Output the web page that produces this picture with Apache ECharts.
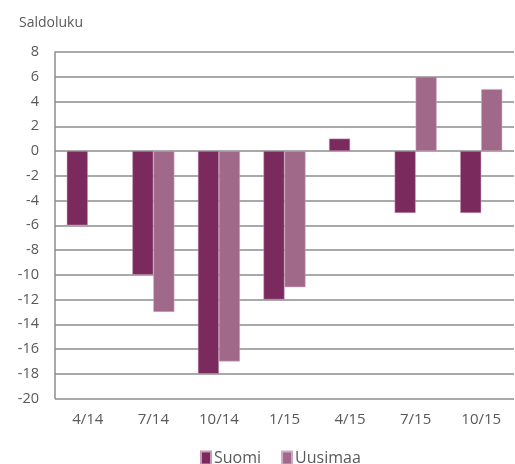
<!DOCTYPE html>
<html>
<head>
<meta charset="utf-8">
<script src="https://cdn.jsdelivr.net/npm/echarts@6/dist/echarts.min.js"></script>
<style>
  html, body { margin: 0; padding: 0; background: #fff; }
  #container { width: 515px; height: 464px; }
</style>
</head>
<body>
<div id="container"></div>
<script>
var categories = ['4/14', '7/14', '10/14', '1/15', '4/15', '7/15', '10/15'];
var suomi = [-6, -10, -18, -12, 1, -5, -5];
var uusimaa = ['-', -13, -17, -11, '-', 6, 5];
var yTicks = { min: -20, max: 8, interval: 2 };

var myChart = echarts.init(document.getElementById('container'));
var textColor = '#595959';
var font = '"Open Sans", "Liberation Sans", sans-serif';

var option = {
	backgroundColor: '#fff',
	animation: false,
	title: {
		text: 'Saldoluku',
		left: 14,
		top: 11,
		textStyle: { color: textColor, fontSize: 14, fontWeight: 'normal', fontFamily: font }
	},
	legend: {
		left: 195,
		top: 445,
		itemWidth: 10,
		itemHeight: 13,
		itemGap: 20,
		icon: 'rect',
		textStyle: { color: textColor, fontSize: 16, fontFamily: font, padding: [0, 0, 0, -2] },
		data: ['Suomi', 'Uusimaa']
	},
	grid: {
		left: 55,
		right: 1,
		top: 52,
		bottom: 65.5
	},
	xAxis: {
		type: 'category',
		data: categories,
		position: 'bottom',
		axisLine: { show: false },
		axisTick: { show: false },
		axisLabel: { color: textColor, fontSize: 15, fontFamily: font, margin: 14 }
	},
	yAxis: {
		type: 'value',
		min: yTicks.min,
		max: yTicks.max,
		interval: yTicks.interval,
		axisLine: { show: true, lineStyle: { color: '#8c8c8c', width: 1.5 } },
		axisTick: { show: false },
		splitLine: { lineStyle: { color: '#8c8c8c', width: 1.5 } },
		axisLabel: { color: textColor, fontSize: 14.5, fontFamily: font, margin: 16 }
	},
	series: [
		{
			name: 'Suomi',
			type: 'bar',
			data: suomi,
			barWidth: 21,
			barGap: '0%',
			itemStyle: { color: '#7b2a5e', borderColor: '#c99ab8', borderWidth: 0.5 }
		},
		{
			name: 'Uusimaa',
			type: 'bar',
			data: uusimaa,
			barWidth: 21,
			barGap: '0%',
			itemStyle: { color: '#a0698a', borderColor: '#d3a9c3', borderWidth: 0.5 }
		}
	]
};

myChart.setOption(option);
</script>
</body>
</html>
